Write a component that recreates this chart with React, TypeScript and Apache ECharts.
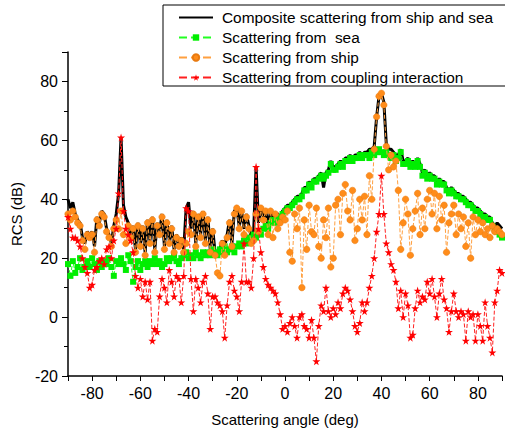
import React, { useEffect, useRef } from "react";
import * as echarts from "echarts";

// sample grid of scattering angles, 1 degree steps from -90 to 90
const angles: number[] = Array.from({ length: 181 }, (_, i) => i - 90);

const composite: number[] = [
  40, 37, 39, 35, 33, 32, 27, 25, 29, 28,
  29, 24, 34, 32, 36, 35, 30, 28, 25, 31,
  35, 42, 61, 38, 34, 32, 28, 31, 23, 32,
  25, 31, 22, 33, 26, 34, 23, 32, 29, 35,
  24, 33, 26, 31, 23, 28, 25, 27, 23, 37,
  39, 30, 36, 25, 35, 28, 36, 26, 34, 23,
  30, 22, 22, 23, 26, 24, 28, 33, 25, 36,
  37, 31, 36, 30, 35, 31, 27, 29, 51, 32,
  37, 34, 36, 31, 36, 33, 35, 35, 34, 36,
  37, 38, 38, 39, 40, 41, 41, 42, 44, 44,
  46, 45, 47, 47, 48, 49, 44, 49, 50, 53,
  51, 51, 52, 53, 52, 54, 54, 55, 54, 55,
  55, 56, 55, 56, 56, 57, 57, 58, 68, 75,
  76, 73, 59, 57, 57, 56, 55, 55, 57, 53,
  53, 54, 52, 53, 52, 54, 52, 49, 50, 48,
  49, 48, 48, 46, 47, 46, 46, 44, 43, 44,
  43, 42, 42, 41, 41, 40, 39, 39, 38, 37,
  37, 36, 35, 35, 34, 34, 32, 31, 32, 31,
  30,
];

const sea: number[] = [
  18, 14, 19, 15, 17, 20, 16, 17, 19, 17,
  20, 18, 16, 19, 17, 19, 18, 20, 17, 14,
  19, 18, 20, 18, 16, 21, 19, 12, 17, 19,
  16, 18, 19, 17, 19, 18, 20, 18, 19, 17,
  18, 20, 19, 20, 21, 19, 18, 20, 21, 22,
  20, 21, 20, 22, 21, 20, 22, 21, 22, 21,
  23, 22, 21, 23, 22, 24, 22, 23, 24, 22,
  24, 25, 24, 26, 25, 27, 26, 28, 27, 29,
  28, 30, 31, 30, 32, 33, 32, 34, 33, 35,
  36, 37, 37, 38, 39, 40, 40, 41, 43, 43,
  45, 44, 46, 46, 47, 48, 47, 48, 49, 52,
  50, 50, 51, 52, 51, 53, 53, 54, 53, 54,
  54, 55, 54, 55, 55, 54, 56, 55, 56, 57,
  56, 55, 56, 55, 54, 55, 53, 54, 56, 52,
  52, 53, 51, 52, 51, 53, 51, 48, 49, 47,
  48, 47, 47, 45, 46, 45, 45, 43, 42, 43,
  42, 41, 41, 40, 40, 39, 38, 38, 37, 36,
  36, 35, 34, 34, 33, 33, 31, 30, 29, 28,
  27,
];

const ship: number[] = [
  35, 33, 36, 34, 32, 31, 26, 23, 28, 27,
  28, 22, 33, 31, 35, 34, 29, 27, 24, 30,
  33, 30, 36, 28, 25, 31, 27, 30, 22, 31,
  24, 30, 21, 32, 25, 33, 22, 31, 28, 34,
  23, 32, 25, 30, 22, 27, 24, 26, 22, 25,
  29, 28, 35, 24, 34, 27, 35, 25, 33, 22,
  29, 21, 15, 14, 25, 21, 27, 32, 24, 35,
  37, 30, 36, 28, 34, 30, 25, 26, 35, 29,
  37, 33, 36, 28, 36, 27, 35, 30, 32, 34,
  33, 36, 22, 19, 35, 30, 37, 10, 33, 23,
  38, 29, 28, 37, 24, 20, 33, 27, 37, 17,
  20, 38, 40, 28, 42, 45, 36, 33, 43, 26,
  30, 40, 33, 41, 28, 48, 40, 57, 68, 75,
  76, 72, 58, 50, 55, 51, 53, 43, 23, 32,
  40, 35, 21, 30, 36, 42, 28, 37, 30, 40,
  43, 35, 42, 30, 41, 33, 38, 22, 32, 35,
  38, 28, 35, 30, 34, 24, 32, 20, 34, 28,
  33, 29, 32, 28, 30, 27, 31, 29, 30, 29,
  28,
];

const coupling: number[] = [
  34, 30, 27, 27, 26, 24, 20, 17, 15, 10,
  11, 16, 17, 19, 20, 18, 23, 24, 20, 26,
  30, 42, 61, 36, 30, 28, 26, 22, 14, 10,
  13, 7, 12, 6, 12, -8, -4, -5, 7, 13,
  10, 5, 16, 12, 7, 14, 13, 5, 14, 37,
  36, 13, 2, 13, 10, 5, 12, 14, 8, -4,
  7, 7, 5, 4, 2, -7, 4, 12, 14, 9,
  7, 2, 12, 25, 12, 12, 10, 20, 51, 30,
  22, 17, 13, 11, 10, 9, 8, 5, 1, -4,
  -3, -5, -2, 0, -3, -7, 0, 1, -3, -4,
  -7, -1, -7, -15, -3, 4, 2, 10, 2, 0,
  3, 1, 5, 3, 8, 10, 9, 6, 2, -3,
  -5, -2, 5, 2, 5, 10, 14, 20, 29, 35,
  48, 35, 25, 22, 18, 16, 12, 3, 9, 0,
  8, 4, -7, -6, 3, 9, 5, 7, 6, 12,
  8, 13, 7, 0, 8, 13, 6, 3, -5, 2,
  8, 2, 0, 2, 1, -8, 2, 0, 1, -8,
  1, -3, -8, 5, -3, -7, -12, 5, 9, 16,
  15,
];

const seriesNames: string[] = [
  "Composite scattering from ship and sea",
  "Scattering from  sea",
  "Scattering from ship",
  "Scattering from coupling interaction",
];

const STAR =
  "path://M50,0 L61,35 L98,35 L68,57 L79,91 L50,70 L21,91 L32,57 L2,35 L39,35 Z";

const FONT = "'Liberation Sans', Arial, sans-serif";

function pairs(values: number[]): number[][] {
  return angles.map((a, i) => [a, values[i]]);
}

export default function App() {
  const ref = useRef<HTMLDivElement>(null);

  useEffect(() => {
    if (!ref.current) return;
    const chart = echarts.init(ref.current, undefined, { renderer: "svg" });
    chart.setOption({
      animation: false,
      backgroundColor: "#fff",
      textStyle: { fontFamily: FONT },
      grid: { left: 68, top: 52, width: 438, height: 324, containLabel: false },
      legend: {
        orient: "vertical",
        left: 163,
        top: 5,
        padding: [5, 40, 1, 15],
        itemWidth: 34,
        itemHeight: 8,
        itemGap: 5,
        borderColor: "#000",
        borderWidth: 1,
        backgroundColor: "#fff",
        textStyle: {
          fontSize: 15.4,
          lineHeight: 15,
          color: "#000",
          fontFamily: FONT,
          padding: [0, 0, 0, 4],
        },
        data: [
          { name: seriesNames[0], itemStyle: { color: "rgba(0,0,0,0)", borderWidth: 0 } },
          { name: seriesNames[1] },
          { name: seriesNames[2] },
          { name: seriesNames[3] },
        ],
      },
      xAxis: {
        type: "value",
        min: -90,
        max: 90,
        interval: 10,
        name: "Scattering angle (deg)",
        nameLocation: "middle",
        nameGap: 36,
        nameTextStyle: { fontSize: 15, color: "#000", fontFamily: FONT },
        axisLine: { show: true, onZero: false, lineStyle: { color: "#000", width: 1.5 } },
        axisTick: { show: true, length: 5, lineStyle: { color: "#000", width: 1 } },
        axisLabel: {
          fontSize: 16,
          color: "#000",
          margin: 9,
          fontFamily: FONT,
          formatter: (v: number) => (v % 20 === 0 ? String(v) : ""),
        },
        splitLine: { show: false },
      },
      yAxis: {
        type: "value",
        min: -20,
        max: 90,
        interval: 20,
        name: "RCS (dB)",
        nameLocation: "middle",
        nameGap: 44,
        nameTextStyle: { fontSize: 15, color: "#000", fontFamily: FONT },
        axisLine: { show: true, onZero: false, lineStyle: { color: "#000", width: 1.5 } },
        axisTick: { show: true, length: 6, lineStyle: { color: "#000", width: 1 } },
        minorTick: { show: true, splitNumber: 2, length: 4, lineStyle: { color: "#000", width: 1 } },
        axisLabel: {
          fontSize: 16,
          color: "#000",
          margin: 10,
          fontFamily: FONT,
          showMaxLabel: false,
        },
        splitLine: { show: false },
      },
      series: [
        {
          name: seriesNames[0],
          type: "line",
          data: pairs(composite),
          symbol: "none",
          lineStyle: { color: "#000", width: 3 },
          itemStyle: { color: "#000" },
          z: 1,
        },
        {
          name: seriesNames[1],
          type: "line",
          data: pairs(sea),
          symbol: "rect",
          symbolSize: 6,
          lineStyle: { color: "#22ff22", width: 1, type: "dashed" },
          itemStyle: { color: "#00ee00" },
          z: 2,
        },
        {
          name: seriesNames[2],
          type: "line",
          data: pairs(ship),
          symbol: "circle",
          symbolSize: 6.5,
          lineStyle: { color: "#ffa040", width: 1, type: "dashed" },
          itemStyle: { color: "#ff8c1a", borderColor: "#e87a10", borderWidth: 0.5 },
          z: 3,
        },
        {
          name: seriesNames[3],
          type: "line",
          data: pairs(coupling),
          symbol: STAR,
          symbolSize: 8,
          lineStyle: { color: "#ff2020", width: 1, type: "dashed" },
          itemStyle: { color: "#ff0000" },
          z: 4,
        },
      ],
    });
    return () => chart.dispose();
  }, []);

  return (
    <div
      ref={ref}
      style={{ position: "fixed", left: 0, top: 0, width: 505, height: 434 }}
    />
  );
}
